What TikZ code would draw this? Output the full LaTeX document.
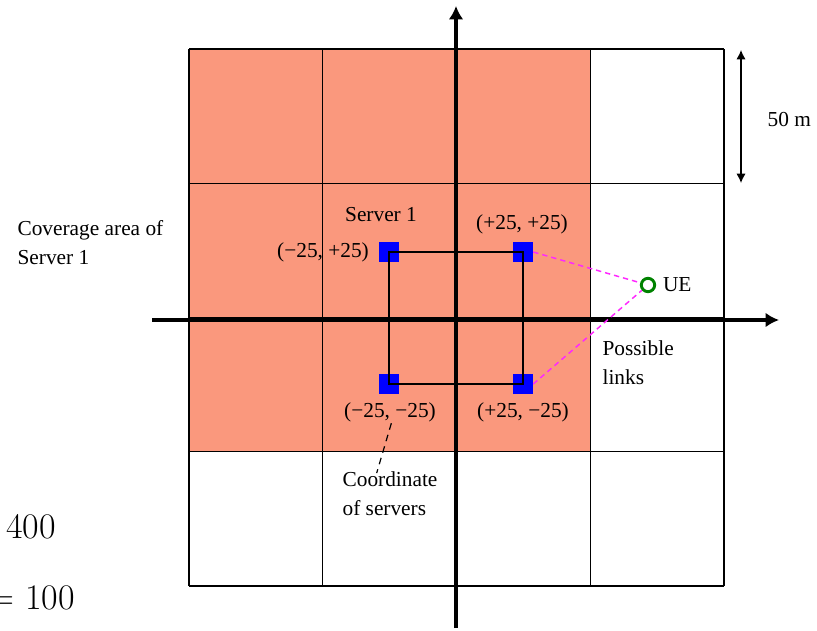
\documentclass[tikz,border=0pt]{standalone}
\usepackage{fontspec}
\setmainfont{Liberation Serif}
\newfontfamily\lmr{Latin Modern Roman}
\usepackage{xcolor}
\usepackage{tikz}
\usetikzlibrary{
arrows.meta,
positioning,
calc
}
\definecolor{coverage}{RGB}{250,152,125}
\definecolor{uegreen}{RGB}{0,130,0}
\definecolor{linkpink}{RGB}{255,40,255}

\begin{document}
\begin{tikzpicture}[
x=0.75pt,y=-0.75pt,
font=\fontsize{16pt}{21.75pt}\selectfont,
server/.style={
fill=blue,
minimum size=15pt,
inner sep=0pt
},
label/.style={
inner sep=1pt,
align=left
},
axis/.style={line width=3pt,-{Latex[length=10pt,width=11pt]}},
link/.style={linkpink,line width=1.1pt,dash pattern=on 4pt off 3pt}
]

\useasboundingbox (0,0) rectangle (817,631);

% coverage area of server 1
\fill[coverage] (189,49) rectangle (590,452);

% grid
\foreach \x in {189,322.75,456.5,590.25,724}
\draw[line width=1.1pt] (\x,49) -- (\x,586);
\foreach \y in {49,183.25,317.5,451.75,586}
\draw[line width=1.1pt] (189,\y) -- (724,\y);

% axes
\draw[axis] (456,628) -- (456,6);
\draw[axis] (152,320) -- (779,320);

% servers
\node[server] (s1) at (389,252) {};
\node[server] (s2) at (523,252) {};
\node[server] (s3) at (389,384) {};
\node[server] (s4) at (523,384) {};
\draw[line width=1pt] (s1.center) -- (s2.center) -- (s4.center) -- (s3.center) -- cycle;

% user equipment
\node[circle,draw=uegreen,line width=2.2pt,minimum size=10pt,inner sep=0pt] (ue) at (648,285) {};
\node[label,right=4pt of ue] (uelabel) {UE};

\draw[link] (s2.east) -- (ue);
\draw[link] (s4.east) -- (ue);

% labels
\node[label] (l1) at (323,252) {(−25, +25)};
\node[label] (l2) at (522,224) {(+25, +25)};
\node[label] (l3) at (390,412) {(−25, −25)};
\node[label] (l4) at (523,412) {(+25, −25)};
\node[label] (srv) at (381,215) {Server 1};

\node[label,anchor=west] (cov) at (16,243) {Coverage area of\\Server 1};
\node[label,anchor=west] (links) at (601,363) {Possible\\links};
\node[label,anchor=west] (crd) at (341,494) {Coordinate\\of servers};
\draw[line width=0.9pt,dash pattern=on 5pt off 4pt] ([xshift=1pt]l3.south) -- ([xshift=-10pt,yshift=-2pt]crd.north);

% cell size
\coordinate (mtop) at (741,50);
\coordinate (mbot) at (741,183);
\draw[line width=1pt,{Latex[length=7pt,width=7pt]}-{Latex[length=7pt,width=7pt]}] (mtop) -- (mbot);
\node[label,anchor=west] (dist) at (766,120) {50 m};

\node[anchor=east,inner sep=0pt] (n400) at (56,527) {\lmr\fontsize{27pt}{30pt}\selectfont 400};
\node[anchor=east,inner sep=0pt] (n100) at (75,598) {\lmr\fontsize{27pt}{30pt}\selectfont = 100};

\end{tikzpicture}
\end{document}
